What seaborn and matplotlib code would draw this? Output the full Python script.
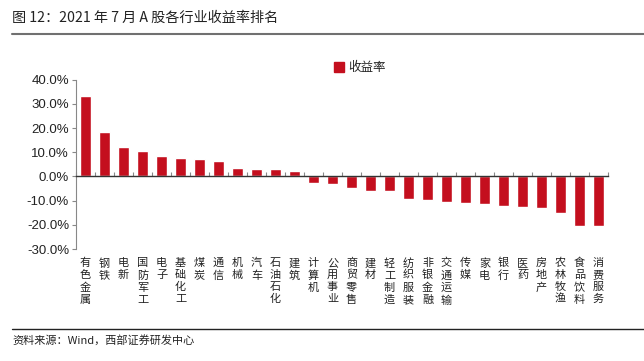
import matplotlib
matplotlib.use("Agg")
import matplotlib.pyplot as plt
from matplotlib.patches import Patch
from matplotlib.lines import Line2D
from matplotlib.ticker import FuncFormatter
import seaborn as sns
import numpy as np
import pandas as pd

# 2021年7月 各行业收益率 (%)
industries = ["有色金属", "钢铁", "电新", "国防军工", "电子", "基础化工", "煤炭", "通信",
              "机械", "汽车", "石油石化", "建筑", "计算机", "公用事业", "商贸零售", "建材",
              "轻工制造", "纺织服装", "非银金融", "交通运输", "传媒", "家电", "银行", "医药",
              "房地产", "农林牧渔", "食品饮料", "消费服务"]
returns = [33.2, 18.5, 12.2, 10.6, 8.5, 7.7, 7.4, 6.5,
           3.4, 3.2, 3.0, 2.3, -2.9, -3.2, -4.6, -5.9,
           -6.1, -9.5, -9.9, -10.5, -10.9, -11.2, -12.4, -12.6,
           -13.1, -15.1, -20.6, -20.6]
y_ticks = [-30, -20, -10, 0, 10, 20, 30, 40]

title = "图 12：2021 年 7 月 A 股各行业收益率排名"
source = "资料来源：Wind，西部证券研发中心"
bar_color = "#C40F1E"

sns.set_style("white")
plt.rcParams['font.family'] = ['Noto Sans CJK SC', 'DejaVu Sans']

df = pd.DataFrame({"industry": industries, "ret": returns})

fig = plt.figure(figsize=(6.44, 3.61), dpi=100)
ax = fig.add_axes([76 / 644, 1 - 249 / 361, (608 - 76) / 644, (249 - 79.7) / 361])

sns.barplot(data=df, x="industry", y="ret", color=bar_color, width=0.56,
            saturation=1, ax=ax, zorder=2)

n = len(industries)
ax.set_xlim(-0.5, n - 0.5)
ax.set_ylim(-30, 40)
ax.set_yticks(y_ticks)
ax.yaxis.set_major_formatter(FuncFormatter(lambda v, _: f"{v:.1f}%"))
for lbl in ax.get_yticklabels():
    lbl.set_fontfamily("Liberation Sans")
    lbl.set_fontsize(9.5)
    lbl.set_color("#222222")
ax.tick_params(axis="y", direction="out", length=3, width=0.8, color="#888888", pad=2, left=True)

# x轴位于0处，刻度在类别之间
ax.spines["bottom"].set_position(("data", 0))
ax.spines["bottom"].set_color("#333333")
ax.spines["bottom"].set_linewidth(1.0)
ax.spines["bottom"].set_zorder(3)
ax.set_xticks(np.arange(n + 1) - 0.5)
ax.set_xticklabels([])
ax.tick_params(axis="x", direction="in", length=3, width=0.8, color="#888888", bottom=True)
ax.spines["left"].set_color("#888888")
ax.spines["left"].set_linewidth(0.8)
ax.spines["top"].set_visible(False)
ax.spines["right"].set_visible(False)
ax.set_xlabel("")
ax.set_ylabel("")

# 竖排行业名称
for i, name in enumerate(industries):
    ax.annotate("\n".join(name), xy=(i, 0), xycoords=("data", "axes fraction"),
                xytext=(0, -6.5), textcoords="offset points",
                ha="center", va="top", fontsize=8, linespacing=1.25, color="#222222")

fig.legend(handles=[Patch(color=bar_color, label="收益率")], loc="center left",
           bbox_to_anchor=(328 / 644, 1 - 68 / 361), frameon=False, fontsize=9,
           handlelength=0.8, handleheight=0.8, handletextpad=0.3, borderpad=0)

fig.text(12 / 644, 1 - 18 / 361, title, fontsize=10.2, va="center", ha="left", color="#222222")
fig.text(12 / 644, 1 - 340 / 361, source, fontsize=8, va="center", ha="left", color="#222222")
fig.add_artist(Line2D([12 / 644, 1], [1 - 33.5 / 361] * 2, color="#707070", lw=1.5))
fig.add_artist(Line2D([12 / 644, 1], [1 - 329 / 361] * 2, color="#222222", lw=1.0))

fig.savefig("out.png", dpi=100)
